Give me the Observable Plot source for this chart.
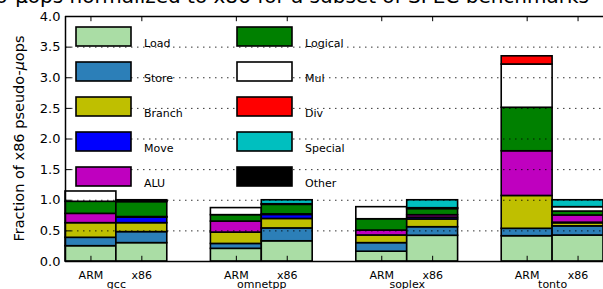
<!DOCTYPE html>
<html>
<head>
<meta charset="utf-8">
<script src="https://cdn.jsdelivr.net/npm/d3@7"></script>
<script src="https://cdn.jsdelivr.net/npm/@observablehq/plot@0.6"></script>
<style>
  html, body { margin: 0; padding: 0; background: white; }
  svg { display: block; }
</style>
</head>
<body>
<div id="chart"></div>
<script>
// ---- data ----
const benchmarks = ["gcc", "omnetpp", "soplex", "tonto"];
const isas = ["ARM", "x86"];
const categories = ["Load", "Store", "Branch", "Move", "ALU", "Logical", "Mul", "Div", "Special", "Other"];
const colors = ["#aadda5", "#2c7fb8", "#bfbf00", "#0000ff", "#bf00bf", "#008000", "#ffffff", "#ff0000", "#00bfbf", "#000000"];
// values per bar, in category order
const gccARM      = [0.250, 0.137, 0.239, 0.000, 0.152, 0.197, 0.168, 0.000, 0.000, 0];
const gccX86      = [0.300, 0.180, 0.146, 0.090, 0.010, 0.244, 0.010, 0.000, 0.020, 0];
const omnetppARM  = [0.207, 0.080, 0.185, 0.000, 0.180, 0.105, 0.115, 0.000, 0.000, 0];
const omnetppX86  = [0.330, 0.210, 0.155, 0.065, 0.010, 0.155, 0.010, 0.000, 0.065, 0];
const soplexARM   = [0.160, 0.140, 0.125, 0.000, 0.080, 0.185, 0.197, 0.000, 0.000, 0];
const soplexX86   = [0.420, 0.140, 0.126, 0.030, 0.040, 0.100, 0.014, 0.000, 0.130, 0];
const tontoARM    = [0.413, 0.121, 0.536, 0.000, 0.730, 0.710, 0.706, 0.134, 0.000, 0];
const tontoX86    = [0.424, 0.150, 0.050, 0.010, 0.117, 0.065, 0.071, 0.000, 0.113, 0];
const series = [[gccARM, gccX86], [omnetppARM, omnetppX86], [soplexARM, soplexX86], [tontoARM, tontoX86]];
const yTicks = [0, 0.5, 1.0, 1.5, 2.0, 2.5, 3.0, 3.5, 4.0];
const titleText = "Pseudo-\u03bcops normalized to x86 for a subset of SPEC benchmarks";

// ---- layout ----
const barWidth = 0.35;
const W = 603, H = 289;

// build stacked rects
const rects = [];
const barCenters = [];
const barLabels = [];
series.forEach((pair, gi) => {
  pair.forEach((vals, bi) => {
    const x1 = gi + bi * barWidth, x2 = x1 + barWidth;
    barCenters.push((x1 + x2) / 2);
    barLabels.push({x: (x1 + x2) / 2, text: isas[bi]});
    let acc = 0;
    vals.forEach((v, ci) => {
      if (v > 0) rects.push({x1, x2, y1: acc, y2: acc + v, cat: categories[ci]});
      acc += v;
    });
  });
});
const groupLabels = benchmarks.map((b, gi) => ({x: gi + barWidth, text: b}));
const grid = yTicks.filter(d => d > 0 && d < 4);

const svg = Plot.plot({
  width: W, height: H,
  marginLeft: 65, marginRight: 0, marginTop: 16, marginBottom: 28,
  style: {fontFamily: "DejaVu Sans", fontSize: "13px", background: "white", overflow: "hidden"},
  x: {domain: [0, 3.7], axis: null},
  y: {domain: [0, 4], axis: null},
  color: {domain: categories, range: colors},
  marks: [
    Plot.rect(rects, {x1: "x1", x2: "x2", y1: "y1", y2: "y2", fill: "cat", stroke: "black", strokeWidth: 1.6}),
    Plot.ruleY(grid, {stroke: "black", strokeWidth: 1, strokeDasharray: "1.5,4.5", strokeOpacity: 0.8}),
    // y ticks (inside)
    Plot.ruleY(yTicks, {x1: 0, x2: 0.042, stroke: "black", strokeWidth: 1}),
    Plot.text(yTicks, {x: 0, y: d => d, text: d => d.toFixed(1), textAnchor: "end", dx: -5, fontSize: 13, fill: "black"}),
    // x ticks at bar centres (inside, bottom and top)
    Plot.ruleX(barCenters, {y1: 0, y2: 0.085, stroke: "black", strokeWidth: 1}),
    Plot.ruleX(barCenters, {y1: 3.915, y2: 4, stroke: "black", strokeWidth: 1}),
    Plot.text(barLabels, {x: "x", y: 0, text: "text", dy: 17, lineAnchor: "bottom", fontSize: 11, fill: "black"}),
    Plot.text(groupLabels, {x: "x", y: 0, text: "text", dy: 26.5, lineAnchor: "bottom", fontSize: 11, fill: "black"}),
    // spines
    Plot.ruleX([0], {stroke: "black", strokeWidth: 1.5}),
    Plot.ruleY([0, 4], {stroke: "black", strokeWidth: 1.5})
  ]
});

const s = d3.select(svg);
// legend (drawn on top of the grid)
const lg = s.append("g").attr("font-family", "DejaVu Sans").attr("font-size", 11).attr("text-anchor", "start");
categories.forEach((c, i) => {
  const col = Math.floor(i / 5), row = i % 5;
  const x = 76 + col * 161, y = 27 + row * 35;
  lg.append("rect").attr("x", x).attr("y", y).attr("width", 55).attr("height", 19)
    .attr("fill", colors[i]).attr("stroke", "black").attr("stroke-width", 1.6);
  lg.append("text").attr("x", x + 68).attr("y", y + 19.5).attr("text-anchor", "start").text(c);
});
// y label
s.append("text")
  .attr("transform", "translate(24,138.5) rotate(-90)")
  .attr("text-anchor", "middle")
  .attr("font-family", "DejaVu Sans").attr("font-size", 14.5)
  .html('Fraction of x86 pseudo-<tspan font-style="italic">\u03bc</tspan>ops');
// title (cropped at the top of the picture)
s.append("text")
  .attr("x", 589).attr("y", 3)
  .attr("text-anchor", "end")
  .attr("font-family", "DejaVu Sans").attr("font-size", 20)
  .text(titleText);

document.getElementById("chart").appendChild(svg);
</script>
</body>
</html>
